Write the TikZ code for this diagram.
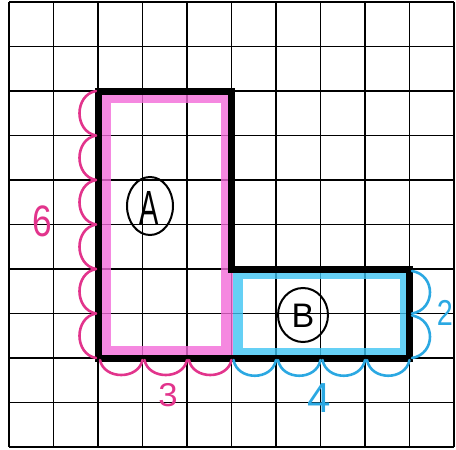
\documentclass[tikz,border=0pt]{standalone}
\usepackage{fontspec}
\setmainfont{Liberation Sans}
\definecolor{hlpink}{HTML}{F26AD8}
\definecolor{penpink}{HTML}{E2348C}
\definecolor{hlcyan}{HTML}{3FC4F2}
\definecolor{penblue}{HTML}{2BA8E2}
\tikzset{
  gridline/.style={line width=1.8pt, black},
  outline/.style={line width=7pt, black, line join=miter},
  hlA/.style={line width=12pt, hlpink, opacity=0.8},
  hlB/.style={line width=10pt, hlcyan, opacity=0.8},
  scalA/.style={line width=2.6pt, penpink, line cap=round},
  scalB/.style={line width=2.6pt, penblue, line cap=round},
  digitA/.style={text=penpink, font=\fontsize{40}{40}\selectfont, inner sep=0pt},
  digitB/.style={text=penblue, font=\fontsize{40}{40}\selectfont, inner sep=0pt},
  circled/.style={draw=black, line width=2pt, ellipse, inner sep=0pt},
}
\usetikzlibrary{shapes.geometric}
\begin{document}
\begin{tikzpicture}[x=1pt, y=-1pt]
\useasboundingbox (0,0) rectangle (456,450);
\clip (0,0) rectangle (456,450);
% grid
\foreach \k in {0,...,10} {
  \draw[gridline] ({9+44.5*\k},2) -- ({9+44.5*\k},447);
  \draw[gridline] (9,{2+44.5*\k}) -- (454,{2+44.5*\k});
}
% highlighter bands
\draw[hlA] (105,97) rectangle (226.5,352);
\draw[hlB] (237.5,274) rectangle (404.5,353);
% L outline
\draw[outline] (98,91) -- (231.5,91) -- (231.5,269) -- (409.5,269) -- (409.5,358) -- (98,358) -- cycle;
% pink scallops left of A (6)
\foreach \k in {0,...,5} {
  \draw[scalA] (96,{91+44.5*\k}) .. controls (74,{95+44.5*\k}) and (74,{131.5+44.5*\k}) .. (96,{135.5+44.5*\k});
}
% pink scallops below A (3)
\foreach \k in {0,...,2} {
  \draw[scalA] ({100+44.5*\k},360) .. controls ({104+44.5*\k},380) and ({138.5+44.5*\k},380) .. ({142.5+44.5*\k},360);
}
% blue scallops below B (4)
\foreach \k in {0,...,3} {
  \draw[scalB] ({233.5+44.5*\k},360) .. controls ({237.5+44.5*\k},381) and ({272+44.5*\k},381) .. ({276+44.5*\k},360);
}
% blue scallops right of B (2)
\foreach \k in {0,...,1} {
  \draw[scalB] (412,{271+44.5*\k}) .. controls (436,{275+44.5*\k}) and (436,{309.5+44.5*\k}) .. (412,{313.5+44.5*\k});
}
% labels
\node[digitA, font=\fontsize{44}{44}\selectfont, xscale=0.8] (six) at (42,221) {6};
\node[digitA, font=\fontsize{33}{33}\selectfont, xscale=1.05] (three) at (168,395) {3};
\node[digitB, font=\fontsize{42}{42}\selectfont] (four) at (319,398) {4};
\node[digitB, font=\fontsize{36}{36}\selectfont, xscale=0.8] (two) at (445,313) {2};
\node[circled, minimum width=46pt, minimum height=58pt] (cA) at (150,206) {};
\node[inner sep=0pt, font=\fontsize{48}{48}\selectfont, xscale=0.6] (A) at (149,208) {A};
\node[circled, minimum width=50pt, minimum height=54pt] (cB) at (303,315) {};
\node[inner sep=0pt, font=\fontsize{34}{34}\selectfont] (B) at (303,316) {B};
\end{tikzpicture}
\end{document}
